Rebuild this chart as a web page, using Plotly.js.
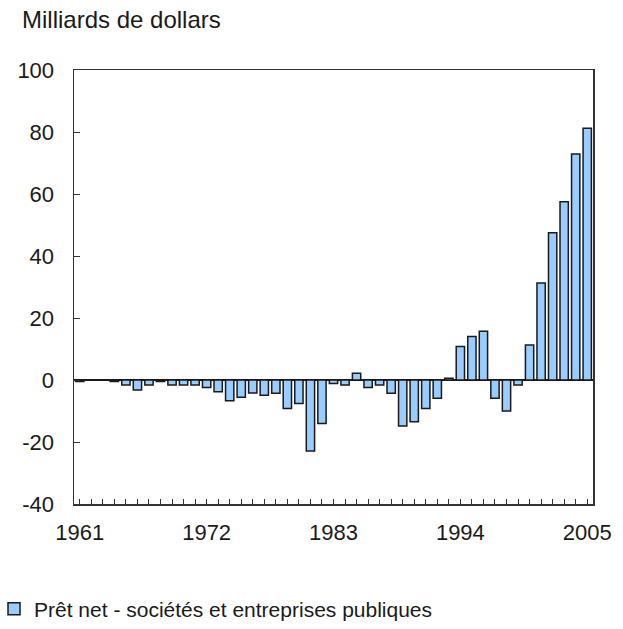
<!DOCTYPE html>
<html>
<head>
<meta charset="utf-8">
<script src="https://cdn.plot.ly/plotly-3.0.1.min.js"></script>
<style>html,body{margin:0;padding:0;background:#fff;}#chart{width:623px;height:629px;}</style>
</head>
<body>
<div id="chart"></div>
<script>
const years = [];
for (let y = 1961; y <= 2005; y++) years.push(y);
const values = [
  -0.5, 0, 0, -0.5, -1.6, -3.2, -1.6, -0.5, -1.6, -1.6,
  -1.6, -2.4, -3.8, -6.7, -5.6, -4.2, -4.9, -4.3, -9.2, -7.6,
  -22.9, -14.0, -1.1, -1.6, 2.2, -2.4, -1.6, -4.3, -14.8, -13.5,
  -9.2, -5.9, 0.6, 10.8, 14.0, 15.7, -5.9, -10.0, -1.6, 11.3,
  31.3, 47.5, 57.5, 72.9, 81.2
];
const labelYears = [1961, 1972, 1983, 1994, 2005];
const yTickVals = [-40, -20, 0, 20, 40, 60, 80, 100];
const yTickText = ["-40", "-20", "0", "20", "40", "60", "80", "100"];
const seriesName = "Prêt net - sociétés et entreprises publiques";
const yTitle = "Milliards de dollars";

const tickText = years.map(y => labelYears.includes(y) ? String(y) : "");

const fam = "Liberation Sans, Arial, sans-serif";
const txt = "#1a1a1a";

Plotly.newPlot("chart", [{
  type: "bar",
  x: years,
  y: values,
  name: seriesName,
  marker: {color: "#99CCFF", line: {color: "#1a1a1a", width: 1.5}},
  showlegend: true
}], {
  width: 623, height: 629,
  margin: {l: 74, r: 30, t: 70, b: 125, autoexpand: false},
  paper_bgcolor: "#fff", plot_bgcolor: "#fff",
  font: {family: fam, size: 22, color: txt},
  bargap: 0.28,
  title: {
    text: yTitle, xref: "container", yref: "container",
    x: 22/623, xanchor: "left", y: 1 - 20/629, yanchor: "middle",
    font: {family: fam, size: 24, color: txt}
  },
  xaxis: {
    range: [1960.5, 2005.5],
    tickvals: years, ticktext: tickText,
    ticks: "inside", ticklen: 5, tickwidth: 1, tickcolor: "#333",
    showline: true, linecolor: "#333", linewidth: 1.5, mirror: true,
    showgrid: false, zeroline: false,
    ticklabelstandoff: 8,
    tickfont: {family: fam, size: 22, color: txt},
    automargin: false,
    fixedrange: true
  },
  yaxis: {
    range: [-40, 100],
    tickvals: yTickVals, ticktext: yTickText,
    ticks: "inside", ticklen: 6, tickwidth: 1, tickcolor: "#333",
    showline: true, linecolor: "#333", linewidth: 1.5, mirror: true,
    showgrid: false,
    zeroline: true, zerolinecolor: "#1a1a1a", zerolinewidth: 1.5,
    ticklabelstandoff: 14,
    tickfont: {family: fam, size: 22, color: txt},
    automargin: false,
    fixedrange: true
  },
  legend: {
    orientation: "h", x: -80/519, xanchor: "left",
    y: -(609 - 504) / 434, yanchor: "middle",
    font: {family: fam, size: 21, color: txt},
    itemwidth: 30
  }
}, {displayModeBar: false, staticPlot: true});
</script>
</body>
</html>
